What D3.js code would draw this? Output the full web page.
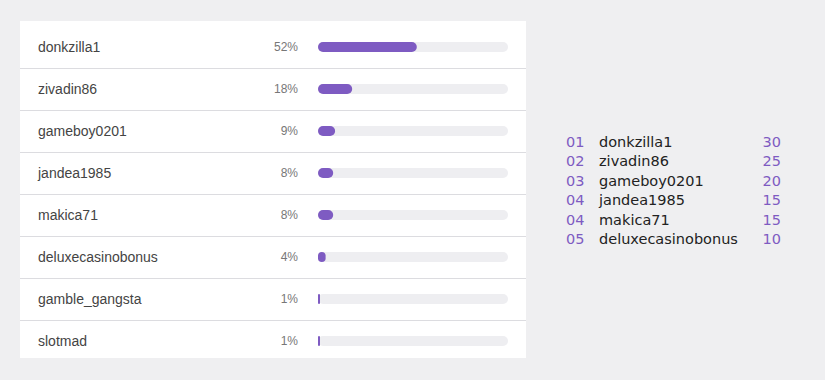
<!DOCTYPE html>
<html><head><meta charset="utf-8">
<script src="https://cdn.jsdelivr.net/npm/d3@7/dist/d3.min.js"></script>
<style>
html,body{margin:0;padding:0;background:#efeff1;}
svg{display:block;}
</style></head>
<body><svg id="c" width="825" height="380"></svg>
<script>
const players = ["donkzilla1","zivadin86","gameboy0201","jandea1985","makica71","deluxecasinobonus","gamble_gangsta","slotmad"];
const shares = [52,18,9,8,8,4,1,1];
const rankLabels = ["01","02","03","04","04","05"];
const rankNames = ["donkzilla1","zivadin86","gameboy0201","jandea1985","makica71","deluxecasinobonus"];
const rankPoints = [30,25,20,15,15,10];

const svg = d3.select("#c");
const purple = "#7e5bc2";

// Panel
const panel = {x0:20, x1:526, y0:21, y1:358};
svg.append("rect").attr("x",panel.x0).attr("y",panel.y0)
  .attr("width",panel.x1-panel.x0).attr("height",panel.y1-panel.y0).attr("fill","#fff");

const y = d3.scalePoint().domain(players).range([47,341]);
const x = d3.scaleLinear().domain([0,100]).range([318,508]);
const bh = 10;

const rows = svg.append("g").selectAll("g").data(players).join("g");

rows.filter((d,i)=>i<players.length-1).append("line")
  .attr("x1",panel.x0).attr("x2",panel.x1)
  .attr("y1",d=>y(d)+21.5).attr("y2",d=>y(d)+21.5)
  .attr("stroke","#dcdce0").attr("stroke-width",1);

rows.append("text").attr("x",38).attr("y",d=>y(d))
  .attr("dy","0.35em").attr("font-family","'Liberation Sans', Arial, sans-serif")
  .attr("font-size",14).attr("fill","#444").text(d=>d);

rows.append("text").attr("x",298).attr("y",d=>y(d))
  .attr("dy","0.35em").attr("text-anchor","end")
  .attr("font-family","'Liberation Sans', Arial, sans-serif")
  .attr("font-size",12).attr("fill","#777").text((d,i)=>shares[i]+"%");

rows.append("rect").attr("x",x(0)).attr("y",d=>y(d)-bh/2)
  .attr("width",x(100)-x(0)).attr("height",bh).attr("rx",5).attr("fill","#eeeef1");

rows.append("rect").attr("x",x(0)).attr("y",d=>y(d)-bh/2)
  .attr("width",(d,i)=>Math.max(2,x(shares[i])-x(0))).attr("height",bh)
  .attr("rx",(d,i)=> Math.min(5, Math.max(2,x(shares[i])-x(0))/2)).attr("fill",purple);

// Right ranking list
const ly = d3.scalePoint().domain(d3.range(rankNames.length)).range([142,239]);
const lg = svg.append("g").selectAll("g").data(rankNames).join("g")
  .attr("font-family","'DejaVu Sans', sans-serif").attr("font-size",14.5);
lg.append("text").attr("x",566).attr("y",(d,i)=>ly(i)).attr("dy","0.35em")
  .attr("fill",purple).text((d,i)=>rankLabels[i]);
lg.append("text").attr("x",599).attr("y",(d,i)=>ly(i)).attr("dy","0.35em")
  .attr("fill","#222").text(d=>d);
lg.append("text").attr("x",781).attr("y",(d,i)=>ly(i)).attr("dy","0.35em")
  .attr("text-anchor","end").attr("fill",purple)
  .text((d,i)=>rankPoints[i]);
</script></body></html>
